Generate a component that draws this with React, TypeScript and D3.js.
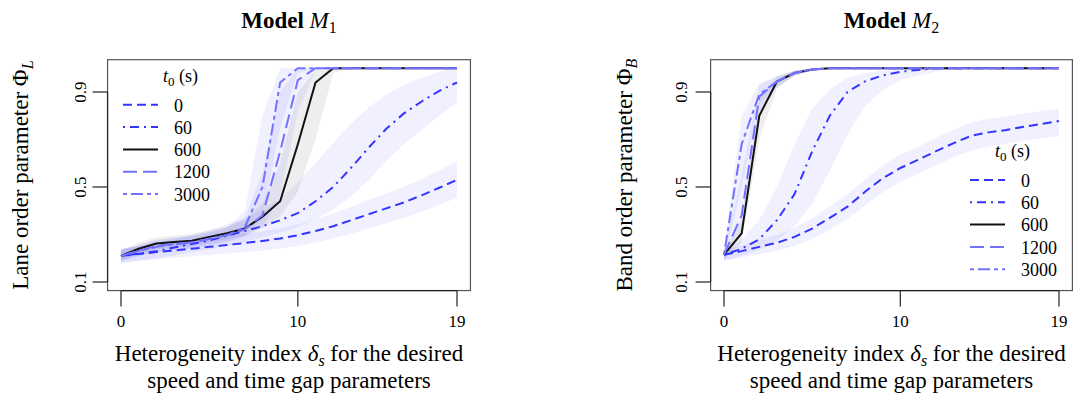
import * as d3 from 'd3'
import { useEffect, useRef } from 'react'

// heterogeneity index on the x axis
const delta = [0, 1, 2, 3, 4, 5, 6, 7, 8, 9, 10, 11, 12, 13, 14, 15, 16, 17, 18, 19]
const t0Labels = ['0', '60', '600', '1200', '3000']
const xTicks = [0, 10, 19]
const yTicks = [0.1, 0.5, 0.9]

// Model M1 : lane order parameter (mean, lower and upper band)
const m1T0 = [0.21, 0.218, 0.226, 0.233, 0.24, 0.248, 0.256, 0.264, 0.273, 0.283, 0.297, 0.315, 0.335, 0.36, 0.385, 0.41, 0.435, 0.465, 0.497, 0.53]
const m1T0Lo = [0.18, 0.19, 0.196, 0.202, 0.208, 0.214, 0.22, 0.226, 0.233, 0.241, 0.252, 0.266, 0.283, 0.303, 0.325, 0.347, 0.37, 0.396, 0.425, 0.455]
const m1T0Hi = [0.24, 0.248, 0.258, 0.266, 0.274, 0.283, 0.293, 0.303, 0.314, 0.326, 0.342, 0.364, 0.388, 0.416, 0.445, 0.473, 0.501, 0.534, 0.57, 0.61]

const m1T60 = [0.21, 0.22, 0.23, 0.245, 0.26, 0.275, 0.295, 0.315, 0.335, 0.36, 0.39, 0.44, 0.5, 0.58, 0.665, 0.745, 0.81, 0.86, 0.905, 0.94]
const m1T60Lo = [0.18, 0.19, 0.2, 0.212, 0.225, 0.238, 0.253, 0.27, 0.288, 0.308, 0.332, 0.365, 0.405, 0.46, 0.53, 0.61, 0.68, 0.74, 0.8, 0.855]
const m1T60Hi = [0.24, 0.25, 0.263, 0.28, 0.298, 0.318, 0.342, 0.37, 0.405, 0.45, 0.52, 0.6, 0.685, 0.765, 0.835, 0.89, 0.93, 0.96, 0.985, 1.0]

const m1T600 = [0.21, 0.24, 0.262, 0.268, 0.274, 0.29, 0.305, 0.325, 0.375, 0.44, 0.68, 0.94, 1, 1, 1, 1, 1, 1, 1, 1]
const m1T600Lo = [0.19, 0.22, 0.24, 0.246, 0.252, 0.266, 0.28, 0.296, 0.33, 0.375, 0.48, 0.7, 0.98, 1, 1, 1, 1, 1, 1, 1]
const m1T600Hi = [0.235, 0.265, 0.288, 0.295, 0.302, 0.318, 0.335, 0.36, 0.43, 0.6, 0.9, 0.99, 1, 1, 1, 1, 1, 1, 1, 1]

const m1T1200 = [0.21, 0.232, 0.252, 0.26, 0.267, 0.282, 0.298, 0.322, 0.38, 0.65, 0.95, 1, 1, 1, 1, 1, 1, 1, 1, 1]
const m1T1200Lo = [0.19, 0.21, 0.228, 0.236, 0.243, 0.256, 0.27, 0.29, 0.33, 0.46, 0.82, 0.99, 1, 1, 1, 1, 1, 1, 1, 1]
const m1T1200Hi = [0.235, 0.256, 0.278, 0.286, 0.294, 0.31, 0.33, 0.37, 0.56, 0.9, 1, 1, 1, 1, 1, 1, 1, 1, 1, 1]

const m1T3000 = [0.21, 0.23, 0.248, 0.258, 0.266, 0.281, 0.297, 0.33, 0.5, 0.94, 1, 1, 1, 1, 1, 1, 1, 1, 1, 1]
const m1T3000Lo = [0.19, 0.208, 0.225, 0.234, 0.242, 0.256, 0.27, 0.295, 0.37, 0.75, 0.98, 1, 1, 1, 1, 1, 1, 1, 1, 1]
const m1T3000Hi = [0.235, 0.254, 0.275, 0.285, 0.293, 0.31, 0.33, 0.4, 0.8, 1, 1, 1, 1, 1, 1, 1, 1, 1, 1, 1]

// Model M2 : band order parameter
const m2T0 = [0.215, 0.23, 0.248, 0.265, 0.29, 0.325, 0.37, 0.417, 0.48, 0.537, 0.58, 0.614, 0.65, 0.684, 0.715, 0.73, 0.74, 0.754, 0.765, 0.778]
const m2T0Lo = [0.19, 0.203, 0.218, 0.232, 0.252, 0.282, 0.322, 0.366, 0.424, 0.478, 0.522, 0.556, 0.59, 0.624, 0.654, 0.67, 0.683, 0.695, 0.705, 0.715]
const m2T0Hi = [0.235, 0.255, 0.278, 0.298, 0.328, 0.368, 0.418, 0.468, 0.532, 0.592, 0.636, 0.67, 0.706, 0.74, 0.772, 0.787, 0.797, 0.81, 0.82, 0.83]

const m2T60 = [0.215, 0.24, 0.28, 0.36, 0.47, 0.65, 0.8, 0.9, 0.945, 0.97, 0.985, 0.993, 1, 1, 1, 1, 1, 1, 1, 1]
const m2T60Lo = [0.19, 0.21, 0.235, 0.275, 0.335, 0.43, 0.57, 0.72, 0.84, 0.91, 0.95, 0.97, 0.985, 0.995, 1, 1, 1, 1, 1, 1]
const m2T60Hi = [0.235, 0.28, 0.36, 0.5, 0.68, 0.83, 0.91, 0.96, 0.98, 0.992, 1, 1, 1, 1, 1, 1, 1, 1, 1, 1]

const m2T600 = [0.215, 0.305, 0.8, 0.944, 0.98, 0.995, 1, 1, 1, 1, 1, 1, 1, 1, 1, 1, 1, 1, 1, 1]
const m2T600Lo = [0.195, 0.265, 0.7, 0.915, 0.97, 0.99, 1, 1, 1, 1, 1, 1, 1, 1, 1, 1, 1, 1, 1, 1]
const m2T600Hi = [0.235, 0.36, 0.87, 0.965, 0.99, 1, 1, 1, 1, 1, 1, 1, 1, 1, 1, 1, 1, 1, 1, 1]

const m2T1200 = [0.215, 0.38, 0.88, 0.944, 0.98, 0.995, 1, 1, 1, 1, 1, 1, 1, 1, 1, 1, 1, 1, 1, 1]
const m2T1200Lo = [0.195, 0.3, 0.8, 0.92, 0.97, 0.99, 1, 1, 1, 1, 1, 1, 1, 1, 1, 1, 1, 1, 1, 1]
const m2T1200Hi = [0.235, 0.55, 0.93, 0.965, 0.99, 1, 1, 1, 1, 1, 1, 1, 1, 1, 1, 1, 1, 1, 1, 1]

const m2T3000 = [0.215, 0.68, 0.89, 0.944, 0.98, 0.995, 1, 1, 1, 1, 1, 1, 1, 1, 1, 1, 1, 1, 1, 1]
const m2T3000Lo = [0.195, 0.5, 0.85, 0.92, 0.97, 0.99, 1, 1, 1, 1, 1, 1, 1, 1, 1, 1, 1, 1, 1, 1]
const m2T3000Hi = [0.235, 0.8, 0.935, 0.965, 0.99, 1, 1, 1, 1, 1, 1, 1, 1, 1, 1, 1, 1, 1, 1, 1]

// line look for each t0, in legend order
const lineStyle = [
  { color: '#3434ff', dash: '9,5', band: 'rgba(60,60,255,0.075)' },
  { color: '#3434ff', dash: '2,5,9,5', band: 'rgba(60,60,255,0.075)' },
  { color: '#111111', dash: null, band: 'rgba(0,0,0,0.065)' },
  { color: '#7272ff', dash: '14,6', band: 'rgba(60,60,255,0.075)' },
  { color: '#7272ff', dash: '4,4,12,4', band: 'rgba(60,60,255,0.075)' },
]

const FONT = '"Liberation Serif", "Times New Roman", serif'

const panels = [
  {
    sub: '1', ylab: 'Lane order parameter ', ysub: 'L',
    xr: [121, 457], ylabX: 28, ytickX: 86,
    mean: [m1T0, m1T60, m1T600, m1T1200, m1T3000],
    lo: [m1T0Lo, m1T60Lo, m1T600Lo, m1T1200Lo, m1T3000Lo],
    hi: [m1T0Hi, m1T60Hi, m1T600Hi, m1T1200Hi, m1T3000Hi],
    legend: { titleX: 163, titleY: 82, x0: 123, x1: 158, tx: 174, y0: 111.5 },
  },
  {
    sub: '2', ylab: 'Band order parameter ', ysub: 'B',
    xr: [724, 1059], ylabX: 632, ytickX: 687,
    mean: [m2T0, m2T60, m2T600, m2T1200, m2T3000],
    lo: [m2T0Lo, m2T60Lo, m2T600Lo, m2T1200Lo, m2T3000Lo],
    hi: [m2T0Hi, m2T60Hi, m2T600Hi, m2T1200Hi, m2T3000Hi],
    legend: { titleX: 995, titleY: 157, x0: 970, x1: 1005, tx: 1021, y0: 186.7 },
  },
]

function drawChart(node: SVGSVGElement) {
  const svg = d3.select(node)
  svg.selectAll('*').remove()

  const y = d3.scaleLinear().domain([0.1, 1]).range([282, 68.25])
  const yPad = 0.04 * (282 - 68.25)

  panels.forEach(p => {
    const x = d3.scaleLinear().domain([0, 19]).range(p.xr)
    const xPad = 0.04 * (p.xr[1] - p.xr[0])
    const bx0 = p.xr[0] - xPad, bx1 = p.xr[1] + xPad
    const by0 = 68.25 - yPad, by1 = 282 + yPad
    const g = svg.append('g')

    // bands
    const area = d3.area<number>()
      .x((d, i) => x(delta[i]))
    p.mean.forEach((_, k) => {
      g.append('path')
        .attr('d', area.y0((d, i) => y(p.lo[k][i])).y1((d, i) => y(p.hi[k][i]))(delta))
        .attr('fill', lineStyle[k].band)
        .attr('stroke', 'none')
    })

    // lines
    const line = d3.line<number>().x((d, i) => x(delta[i])).y(d => y(d))
    p.mean.forEach((m, k) => {
      g.append('path')
        .attr('d', line(m))
        .attr('fill', 'none')
        .attr('stroke', lineStyle[k].color)
        .attr('stroke-width', 2)
        .attr('stroke-dasharray', lineStyle[k].dash)
    })

    // box
    g.append('rect')
      .attr('x', bx0).attr('y', by0)
      .attr('width', bx1 - bx0).attr('height', by1 - by0)
      .attr('fill', 'none').attr('stroke', '#555').attr('stroke-width', 1.2)

    // x axis
    g.append('line')
      .attr('x1', x(xTicks[0])).attr('x2', x(xTicks[xTicks.length - 1]))
      .attr('y1', by1).attr('y2', by1).attr('stroke', '#222').attr('stroke-width', 1.2)
    xTicks.forEach(t => {
      g.append('line').attr('x1', x(t)).attr('x2', x(t))
        .attr('y1', by1).attr('y2', by1 + 16).attr('stroke', '#222').attr('stroke-width', 1.2)
      g.append('text').attr('x', x(t)).attr('y', 326.5)
        .attr('text-anchor', 'middle').attr('font-size', 17).attr('font-family', FONT)
        .text(t)
    })

    // y axis
    g.append('line')
      .attr('x1', bx0).attr('x2', bx0)
      .attr('y1', y(yTicks[0])).attr('y2', y(yTicks[yTicks.length - 1]))
      .attr('stroke', '#222').attr('stroke-width', 1.2)
    yTicks.forEach(t => {
      g.append('line').attr('x1', bx0 - 15).attr('x2', bx0)
        .attr('y1', y(t)).attr('y2', y(t)).attr('stroke', '#222').attr('stroke-width', 1.2)
      g.append('text')
        .attr('transform', `translate(${p.ytickX},${y(t)}) rotate(-90)`)
        .attr('text-anchor', 'middle').attr('font-size', 17).attr('font-family', FONT)
        .text(t)
    })

    // title
    const cx = (bx0 + bx1) / 2
    const title = g.append('text').attr('x', cx).attr('y', 28)
      .attr('text-anchor', 'middle').attr('font-size', 23).attr('font-family', FONT)
    title.append('tspan').attr('font-weight', 'bold').text('Model ')
    title.append('tspan').attr('font-style', 'italic').text('M')
    title.append('tspan').attr('font-size', 16).attr('dy', 5).text(p.sub)

    // y label
    const yl = g.append('text')
      .attr('transform', `translate(${p.ylabX},${(by0 + by1) / 2}) rotate(-90)`)
      .attr('text-anchor', 'middle').attr('font-size', 23).attr('font-family', FONT)
    yl.append('tspan').text(p.ylab + 'Φ')
    yl.append('tspan').attr('font-style', 'italic').attr('font-size', 16).attr('dy', 5).text(p.ysub)

    // x label
    const xl = g.append('text').attr('x', cx).attr('y', 361)
      .attr('text-anchor', 'middle').attr('font-size', 23).attr('font-family', FONT)
    xl.append('tspan').text('Heterogeneity index ')
    xl.append('tspan').attr('font-style', 'italic').text('δ')
    xl.append('tspan').attr('font-style', 'italic').attr('font-size', 16).attr('dy', 5).text('s')
    xl.append('tspan').attr('dy', -5).text(' for the desired')
    g.append('text').attr('x', cx).attr('y', 388)
      .attr('text-anchor', 'middle').attr('font-size', 23).attr('font-family', FONT)
      .text('speed and time gap parameters')

    // legend
    const L = p.legend
    const lt = g.append('text').attr('x', L.titleX).attr('y', L.titleY)
      .attr('font-size', 18).attr('font-family', FONT)
    lt.append('tspan').attr('font-style', 'italic').text('t')
    lt.append('tspan').attr('font-size', 13).attr('dy', 4).text('0')
    lt.append('tspan').attr('dy', -4).text(' (s)')
    t0Labels.forEach((lab, k) => {
      const by = L.y0 + k * 22.3
      g.append('line').attr('x1', L.x0).attr('x2', L.x1)
        .attr('y1', by - 6.7).attr('y2', by - 6.7)
        .attr('stroke', lineStyle[k].color).attr('stroke-width', 2)
        .attr('stroke-dasharray', lineStyle[k].dash)
      g.append('text').attr('x', L.tx).attr('y', by)
        .attr('font-size', 18).attr('font-family', FONT).text(lab)
    })
  })
}

export default function App() {
  const ref = useRef<SVGSVGElement>(null)
  useEffect(() => {
    if (ref.current) drawChart(ref.current)
  }, [])
  return (
    <svg ref={ref} width={1078} height={398}
      style={{ position: 'absolute', left: 0, top: 0, background: 'white' }} />
  )
}
